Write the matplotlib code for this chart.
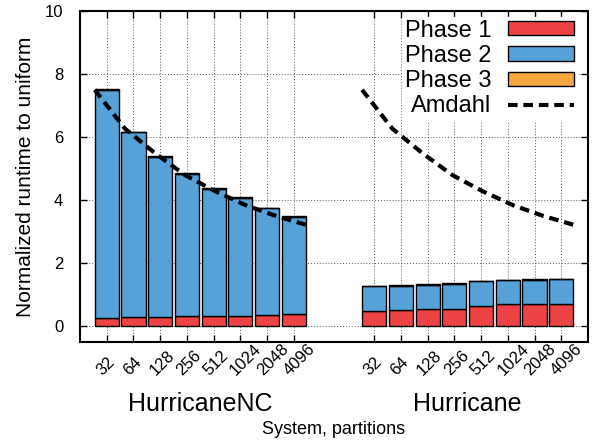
import numpy as np
import matplotlib
matplotlib.use("Agg")
import matplotlib.pyplot as plt
from matplotlib import transforms

plt.rcParams['font.family'] = ['Liberation Sans', 'DejaVu Sans']

systems = ["HurricaneNC", "Hurricane"]
partitions = ["32", "64", "128", "256", "512", "1024", "2048", "4096"]

nc_total = [7.52, 6.17, 5.40, 4.86, 4.37, 4.09, 3.76, 3.50]
nc_phase1 = [0.26, 0.28, 0.30, 0.31, 0.32, 0.34, 0.37, 0.38]
nc_phase3 = [0.02, 0.02, 0.02, 0.02, 0.02, 0.02, 0.02, 0.02]

h_total = [1.29, 1.30, 1.34, 1.36, 1.44, 1.48, 1.49, 1.51]
h_phase1 = [0.49, 0.51, 0.54, 0.56, 0.64, 0.69, 0.70, 0.72]
h_phase3 = [0.02, 0.02, 0.02, 0.02, 0.02, 0.02, 0.02, 0.02]

amdahl = [7.50, 6.27, 5.49, 4.79, 4.28, 3.84, 3.50, 3.22]

c1 = "#ee4344"
c2 = "#56a1d8"
c3 = "#f5a840"

fig = plt.figure(figsize=(5.93, 4.42), dpi=100)
ax = fig.add_axes([80/593, 100/442, (588-80)/593, (342-11)/442])

n = len(partitions)
groups = [
    (np.arange(n), nc_total, nc_phase1, nc_phase3),
    (np.arange(n) + n + 2, h_total, h_phase1, h_phase3),
]
bw = 0.9
all_pos = []
handles = {}
for gi, (pos, tot, p1, p3) in enumerate(groups):
    tot = np.array(tot); p1 = np.array(p1); p3 = np.array(p3)
    p2 = tot - p1 - p3
    b1 = ax.bar(pos, p1, bw, color=c1, edgecolor="black", linewidth=1.0, zorder=3)
    b2 = ax.bar(pos, p2, bw, bottom=p1, color=c2, edgecolor="black", linewidth=1.0, zorder=3)
    b3 = ax.bar(pos, p3, bw, bottom=p1 + p2, color=c3, edgecolor="black", linewidth=1.0, zorder=3)
    xa = np.linspace(pos[0] - bw / 2, pos[-1] + bw / 2, len(amdahl))
    ln, = ax.plot(xa, amdahl, color="black", lw=3, dashes=(2.3, 1.4), zorder=4)
    if gi == 0:
        handles = [b1, b2, b3, ln]
    all_pos.extend(list(pos))
    trans = transforms.blended_transform_factory(ax.transData, ax.transAxes)
    ax.text(pos.mean(), -0.187, systems[gi], transform=trans, ha="center", va="center",
            fontsize=18)

ax.set_xlim(-1, 2 * n + 2)
ax.set_ylim(-0.5, 10)
ax.set_xticks(all_pos)
ax.set_xticklabels(partitions * 2, rotation=45, ha="left", va="bottom",
                   fontsize=12)
ax.set_yticks([0, 2, 4, 6, 8, 10])
ax.tick_params(axis="both", direction="in", top=True, right=True, length=5, width=1)
ax.tick_params(axis="y", labelsize=12, pad=12)
ax.tick_params(axis="x", pad=26)
offset = transforms.ScaledTranslation(-13 / 100, 0, fig.dpi_scale_trans)
for lab in ax.get_xticklabels():
    lab.set_transform(lab.get_transform() + offset)
ax.grid(True, color="#555555", linestyle=(0, (1, 2)), linewidth=0.7, zorder=0)
ax.set_axisbelow(True)
for s in ax.spines.values():
    s.set_linewidth(1.5)

ax.set_ylabel("Normalized runtime to uniform", fontsize=15, labelpad=7)
fig.text((80 + 588) / 2 / 593, 1 - 430 / 442, "System, partitions", ha="center", va="center",
         fontsize=13)

leg = ax.legend(handles, ["Phase 1", "Phase 2", "Phase 3", "Amdahl"],
                loc="upper right", bbox_to_anchor=(1.0, 1.017), markerfirst=False,
                fontsize=17, frameon=True, facecolor="white", edgecolor="white",
                framealpha=1, fancybox=False, borderpad=0.1, labelspacing=0.14,
                handlelength=2.8, handleheight=0.55, handletextpad=0.7)
leg.set_zorder(5)

fig.savefig("out.png", dpi=100)
